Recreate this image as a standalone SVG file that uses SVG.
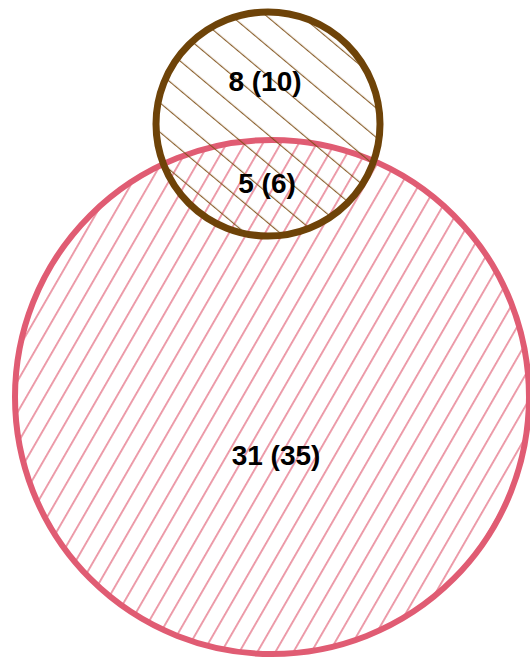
<svg xmlns="http://www.w3.org/2000/svg" width="530" height="659" viewBox="0 0 530 659">
<defs>
<pattern id="hatchRed" patternUnits="userSpaceOnUse" width="15.6" height="20" patternTransform="rotate(30)">
<line x1="2.9" y1="-1" x2="2.9" y2="21" stroke="#E05C73" stroke-width="1.2"/>
</pattern>
<pattern id="hatchBrown" patternUnits="userSpaceOnUse" width="20" height="22.5" patternTransform="rotate(40)">
<line x1="-1" y1="20.9" x2="21" y2="20.9" stroke="#7A4A10" stroke-width="1"/>
</pattern>
<style>
.lbl{font-family:"Liberation Sans",Arial,sans-serif;font-weight:bold;font-size:28px;fill:#000;text-anchor:middle}
</style>
</defs>
<rect width="530" height="659" fill="#fff"/>
<g id="setA">
<circle cx="272" cy="397" r="257" fill="url(#hatchRed)" stroke="#E05C73" stroke-width="6"/>
</g>
<g id="setB">
<circle cx="268" cy="124" r="112" fill="url(#hatchBrown)" stroke="#6E4308" stroke-width="7"/>
</g>
<g id="labels">
<text class="lbl" x="265" y="91">8 (10)</text>
<text class="lbl" x="267" y="193">5 (6)</text>
<text class="lbl" x="276" y="465">31 (35)</text>
</g>
</svg>
